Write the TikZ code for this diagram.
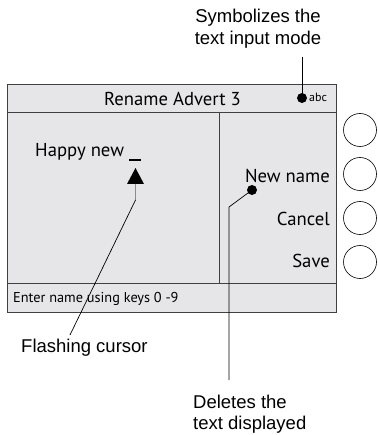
\documentclass[tikz,border=0pt]{standalone}
\usepackage{fontspec}
\setmainfont{Liberation Sans}
\newfontfamily\screenfont{PT Sans}
\definecolor{screenbg}{RGB}{230,230,232}
\begin{document}
\begin{tikzpicture}[x=1pt,y=-1pt,
  ann/.style={font=\fontsize{18.5}{22}\selectfont, align=left, inner sep=0pt},
  scr/.style={font=\screenfont\fontsize{18.7}{22}\selectfont, inner sep=0pt},
  softkey/.style={draw, circle, minimum size=33pt, inner sep=0pt, line width=0.6pt},
  leader/.style={line width=0.7pt},
  dotmark/.style={circle, fill=black, minimum size=10pt, inner sep=0pt},
  frame/.style={black!75, line width=0.8pt},
  panel/.style={draw=black!75, fill=screenbg, line width=0.8pt}]
\useasboundingbox (0,0) rectangle (377,435);
% screen
\draw[panel] (7,84) rectangle (336,312);
\draw[frame] (7,112) -- (336,112);
\draw[frame] (7,283) -- (336,283);
\draw[frame] (219,112) -- (219,283);
\node[scr, anchor=base] (title) at (172.5,106) {Rename Advert 3};
\node[dotmark] (modedot) at (302,98) {};
\node[scr, font=\screenfont\fontsize{12}{14}\selectfont, anchor=base west] (abc) at (309,102) {abc};
\node[scr, anchor=base west] (happy) at (35,157) {Happy new};
\coordinate (curA) at (129,160);
\coordinate (curB) at (141,160);
\draw[line width=1.5pt] (curA) -- (curB);
\node[scr, anchor=base east] (newname) at (330,183) {New name};
\node[scr, anchor=base east] (cancel) at (330,225) {Cancel};
\node[scr, anchor=base east] (save) at (330,267) {Save};
\node[scr, font=\screenfont\fontsize{14.3}{17}\selectfont, anchor=base west] (status) at (13,302) {Enter name using keys 0 -9};
% soft keys
\node[softkey] (k1) at (360,130) {};
\node[softkey] (k2) at (360,174) {};
\node[softkey] (k3) at (360,218) {};
\node[softkey] (k4) at (360,262) {};
% cursor marker
\coordinate (triTop) at (135.5,168);
\coordinate (triL) at (127,184);
\coordinate (triR) at (144,184);
\fill (triTop) -- (triR) -- (triL) -- cycle;
\coordinate (triBase) at (135.5,184);
\coordinate (bend1) at (135.5,200);
\draw[black!45, line width=1.6pt] (triBase) -- (bend1);
\coordinate (cursEnd) at (70,335);
\draw[leader] (bend1) -- (cursEnd);
\node[ann, anchor=base west] (flash) at (21,352) {Flashing cursor};
% new name pointer
\node[dotmark] (nndot) at (252,190) {};
\coordinate (bend2) at (229,207);
\coordinate (delEnd) at (229,380);
\draw[leader] (nndot.center) -- (bend2) -- (delEnd);
\node[ann, anchor=base west] (deletes1) at (193,408) {Deletes the};
\node[ann, anchor=base west] (deletes2) at (193,429) {text displayed};
% mode pointer
\coordinate (modeEnd) at (302,57);
\draw[leader] (modedot.center) -- (modeEnd);
\node[ann, anchor=base] (symb1) at (258,23) {Symbolizes the};
\node[ann, anchor=base] (symb2) at (258,45) {text input mode};
\end{tikzpicture}
\end{document}
